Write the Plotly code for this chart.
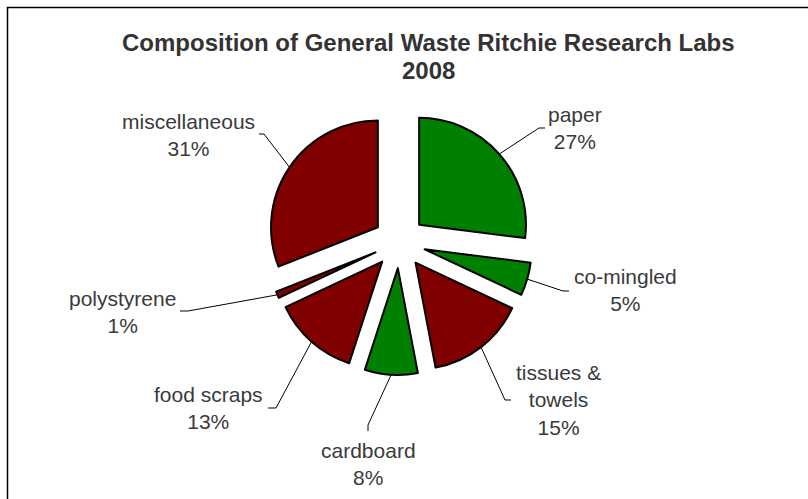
import math
import plotly.graph_objects as go

# ---- data ----
labels = ["paper", "co-mingled", "tissues & towels", "cardboard",
          "food scraps", "polystyrene", "miscellaneous"]
values = [27, 5, 15, 8, 13, 1, 31]
colors = ["#008000", "#008000", "#800000", "#008000",
          "#800000", "#800000", "#800000"]
title_line1 = "Composition of General Waste Ritchie Research Labs"
title_line2 = "2008"

# ---- layout constants (pixels) ----
W, H = 808, 499
PULL = 0.245
dom_x = [266.5 / W, 532.5 / W]
dom_y = [1 - 375 / H, 1 - 109 / H]

# label block centres and leader-line elbows (pixel positions, layout only)
label_pos = [(575, 128), (625, 290), (558, 400), (368, 464),
             (208, 408), (122, 312), (188, 135)]
elbow_pos = [((539, 128), (545, 128)), ((563, 291), (569, 291)),
             ((505, 400), (511, 400)), ((368, 425), (368, 431)),
             ((276, 408), (268, 408)), ((188, 311), (180, 311)),
             ((264, 134), (259, 134))]

FONT = "Liberation Sans, Arial, sans-serif"
TXT = "#3a3a3a"


def px(x):
    return x / W


def py(y):
    return 1 - y / H


fig = go.Figure(go.Pie(
    labels=labels,
    values=values,
    sort=False,
    direction="clockwise",
    rotation=0,
    pull=[PULL] * len(values),
    marker=dict(colors=colors, line=dict(color="black", width=2)),
    textinfo="none",
    showlegend=False,
    domain=dict(x=dom_x, y=dom_y),
))

# pie geometry derived from domain
cx = (dom_x[0] + dom_x[1]) / 2 * W
cy = (1 - (dom_y[0] + dom_y[1]) / 2) * H
half = min((dom_x[1] - dom_x[0]) * W, (dom_y[1] - dom_y[0]) * H) / 2
r_out = half  # radius + pull offset

total = sum(values)
cum = 0
annotations = []
shapes = []
for i, (lab, v) in enumerate(zip(labels, values)):
    mid = (cum + v / 2) / total * 2 * math.pi
    cum += v
    sx = cx + r_out * math.sin(mid)
    sy = cy - r_out * math.cos(mid)
    (ex, ey), (fx, fy) = elbow_pos[i]
    path = f"M {px(sx)},{py(sy)} L {px(ex)},{py(ey)} L {px(fx)},{py(fy)}"
    shapes.append(dict(type="path", path=path, xref="paper", yref="paper",
                       line=dict(color="black", width=1)))
    disp = lab.replace(" & ", " &amp;<br>")
    lx, ly = label_pos[i]
    annotations.append(dict(
        text=f"{disp}<br>{round(v / total * 100)}%",
        x=px(lx), y=py(ly), xref="paper", yref="paper",
        xanchor="center", yanchor="middle", showarrow=False,
        font=dict(family=FONT, size=21, color=TXT), align="center"))

annotations.append(dict(
    text=f"<b>{title_line1}</b>", x=px(428), y=py(43),
    xref="paper", yref="paper", xanchor="center", yanchor="middle",
    showarrow=False, font=dict(family=FONT, size=24, color="#333333")))
annotations.append(dict(
    text=f"<b>{title_line2}</b>", x=px(428), y=py(70),
    xref="paper", yref="paper", xanchor="center", yanchor="middle",
    showarrow=False, font=dict(family=FONT, size=24, color="#333333")))

# chart frame
shapes.append(dict(type="rect", xref="paper", yref="paper",
                   x0=px(7.5), x1=px(W + 5), y0=py(H + 5), y1=py(7.5),
                   line=dict(color="black", width=1.5),
                   fillcolor="rgba(0,0,0,0)"))

fig.update_layout(
    width=W, height=H,
    margin=dict(l=0, r=0, t=0, b=0),
    paper_bgcolor="white",
    plot_bgcolor="white",
    annotations=annotations,
    shapes=shapes,
)

fig.write_html("out.html",
               config={"displayModeBar": False},
               post_script="document.body.style.margin='0px';"
                           "document.body.style.overflow='hidden';")
